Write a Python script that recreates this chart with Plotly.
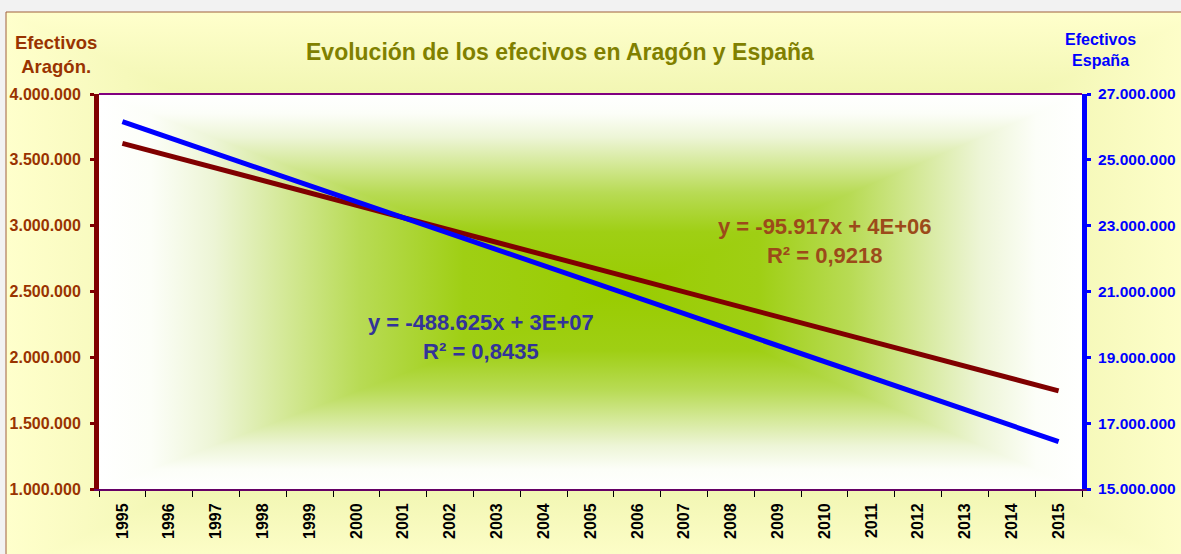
import base64

import plotly.graph_objects as go

# Datos (líneas de tendencia)
years = [str(y) for y in range(1995, 2016)]
trend_years = [1995, 2015]
efectivos_aragon = [3625000, 1745000]
efectivos_espana = [26160000, 16440000]

FONT = "Liberation Sans, Arial, sans-serif"
RED = "#800000"
BLUE = "#0000FF"


def path_gradient_svg(stops, cx=50, cy=50):
    # degradado rectangular "desde el centro" (tipo Excel)
    def grad(gid, horizontal, center):
        x2, y2 = (100, 0) if horizontal else (0, 100)
        s = []
        for t, c in stops:
            s.append((center * (1 - t), c))
        for t, c in reversed(stops):
            s.append((center + (100 - center) * t, c))
        s = sorted(s, key=lambda v: v[0])
        txt = "".join(f'<stop offset="{o / 100:.4f}" stop-color="{c}"/>' for o, c in s)
        return (f'<linearGradient id="{gid}" x1="0" y1="0" x2="{x2}" y2="{y2}" '
                f'gradientUnits="userSpaceOnUse">{txt}</linearGradient>')

    svg = ('<svg xmlns="http://www.w3.org/2000/svg" viewBox="0 0 100 100" '
           'preserveAspectRatio="none"><defs>'
           + grad("h", True, cx) + grad("v", False, cy) +
           '</defs><rect width="100" height="100" fill="url(#h)"/>'
           f'<polygon points="0,0 100,0 {cx},{cy}" fill="url(#v)"/>'
           f'<polygon points="0,100 100,100 {cx},{cy}" fill="url(#v)"/></svg>')
    return "data:image/svg+xml;base64," + base64.b64encode(svg.encode()).decode()


plot_bg = path_gradient_svg([(0, "#99CC00"), (0.3, "#9FCF14"), (0.5, "#B8DB55"),
                             (0.65, "#D5E99A"), (0.78, "#EDF5D6"), (0.9, "#FCFEF8"),
                             (1.0, "#FFFFFF")], cx=53, cy=50)
frame_bg = path_gradient_svg([(0, "#E6EF9C"), (0.6, "#EDF3AA"), (1.0, "#FFFFCC")])

fig = go.Figure()

fig.add_trace(go.Scatter(
    x=trend_years, y=efectivos_aragon, mode="lines",
    line=dict(color=RED, width=5), name="Aragón", yaxis="y",
))
fig.add_trace(go.Scatter(
    x=trend_years, y=efectivos_espana, mode="lines",
    line=dict(color=BLUE, width=5), name="España", yaxis="y2",
))

# geometría del área de trazado en píxeles
L, R, T, B = 99, 1082, 94, 489
W, H = R - L, B - T

fig.update_layout(
    width=1181, height=554,
    margin=dict(l=L, r=1181 - R, t=T, b=554 - B, pad=0),
    paper_bgcolor="#F2F2F2",
    plot_bgcolor="#FFFFFF",
    separators=",.",
    showlegend=False,
    font=dict(family=FONT),
    xaxis=dict(
        range=[1994.5, 2015.5], tickmode="array",
        tickvals=list(range(1995, 2016)), ticktext=years,
        tickangle=-90, ticks="", ticklabelstandoff=6, automargin=False,
        tickfont=dict(size=16, color="#000000", family=FONT, weight="bold"),
        showline=True, linecolor="#660066", linewidth=2,
        showgrid=False, zeroline=False,
        minor=dict(tickmode="linear", tick0=1994.5, dtick=1, ticks="outside",
                   ticklen=6, tickwidth=1, tickcolor="#000000", showgrid=False),
    ),
    yaxis=dict(
        range=[1000000, 4000000], tick0=1000000, dtick=500000, tickformat=",d",
        ticks="outside", ticklen=4, tickwidth=3, tickcolor=RED, automargin=False,
        tickfont=dict(size=16, color="#993300", family=FONT, weight="bold"),
        showline=True, linecolor=RED, linewidth=5,
        showgrid=False, zeroline=False, ticklabelstandoff=6,
    ),
    yaxis2=dict(
        range=[15000000, 27000000], tick0=15000000, dtick=2000000, tickformat=",d",
        overlaying="y", side="right", automargin=False,
        ticks="outside", ticklen=4, tickwidth=3, tickcolor=BLUE,
        tickfont=dict(size=15.5, color=BLUE, family=FONT, weight="bold"),
        showline=True, linecolor=BLUE, linewidth=5,
        showgrid=False, zeroline=False, ticklabelstandoff=4,
    ),
    images=[
        dict(source=frame_bg, xref="paper", yref="paper",
             x=(6 - L) / W, y=(B - 12) / H, sizex=1200 / W, sizey=560 / H,
             sizing="stretch", xanchor="left", yanchor="top", layer="below"),
        dict(source=plot_bg, xref="paper", yref="paper",
             x=0, y=1, sizex=1, sizey=1,
             sizing="stretch", xanchor="left", yanchor="top", layer="below"),
    ],
    shapes=[
        dict(type="rect", xref="paper", yref="paper",
             x0=(6 - L) / W, x1=(1200 - L) / W, y0=(B - 570) / H, y1=(B - 12) / H,
             line=dict(color="#A0603C", width=1), fillcolor="rgba(0,0,0,0)",
             layer="below"),
        dict(type="line", xref="paper", yref="paper", x0=0, x1=1, y0=1, y1=1,
             line=dict(color="#800080", width=2)),
    ],
)

annotations = [
    dict(text="<b>Evolución de los efecivos en Aragón y España</b>",
         x=(560 - L) / W, y=(B - 52) / H, font=dict(size=23, color="#808000")),
    dict(text="<b>Efectivos<br>Aragón.</b>",
         x=(56 - L) / W, y=(B - 55) / H, font=dict(size=18.5, color="#993300")),
    dict(text="<b>Efectivos<br>España</b>",
         x=(1100 - L) / W, y=(B - 50) / H, font=dict(size=16, color=BLUE)),
]
for a in annotations:
    fig.add_annotation(xref="paper", yref="paper", showarrow=False,
                       xanchor="center", yanchor="middle", **a)

fig.add_annotation(
    text="<b>y = -95.917x + 4E+06<br>R² = 0,9218</b>",
    xref="x", yref="y", x=2010.0, y=2883000, showarrow=False,
    font=dict(size=22, color="#9C4A1A", family=FONT),
)
fig.add_annotation(
    text="<b>y = -488.625x + 3E+07<br>R² = 0,8435</b>",
    xref="x", yref="y", x=2002.66, y=2154000, showarrow=False,
    font=dict(size=22, color="#333399", family=FONT),
)

# sin margen en el cuerpo de la página para que la figura ocupe toda la ventana
fig.write_html("out.html",
               config={"displayModeBar": False},
               post_script="document.body.style.margin='0';"
                           "document.body.style.overflow='hidden';")
